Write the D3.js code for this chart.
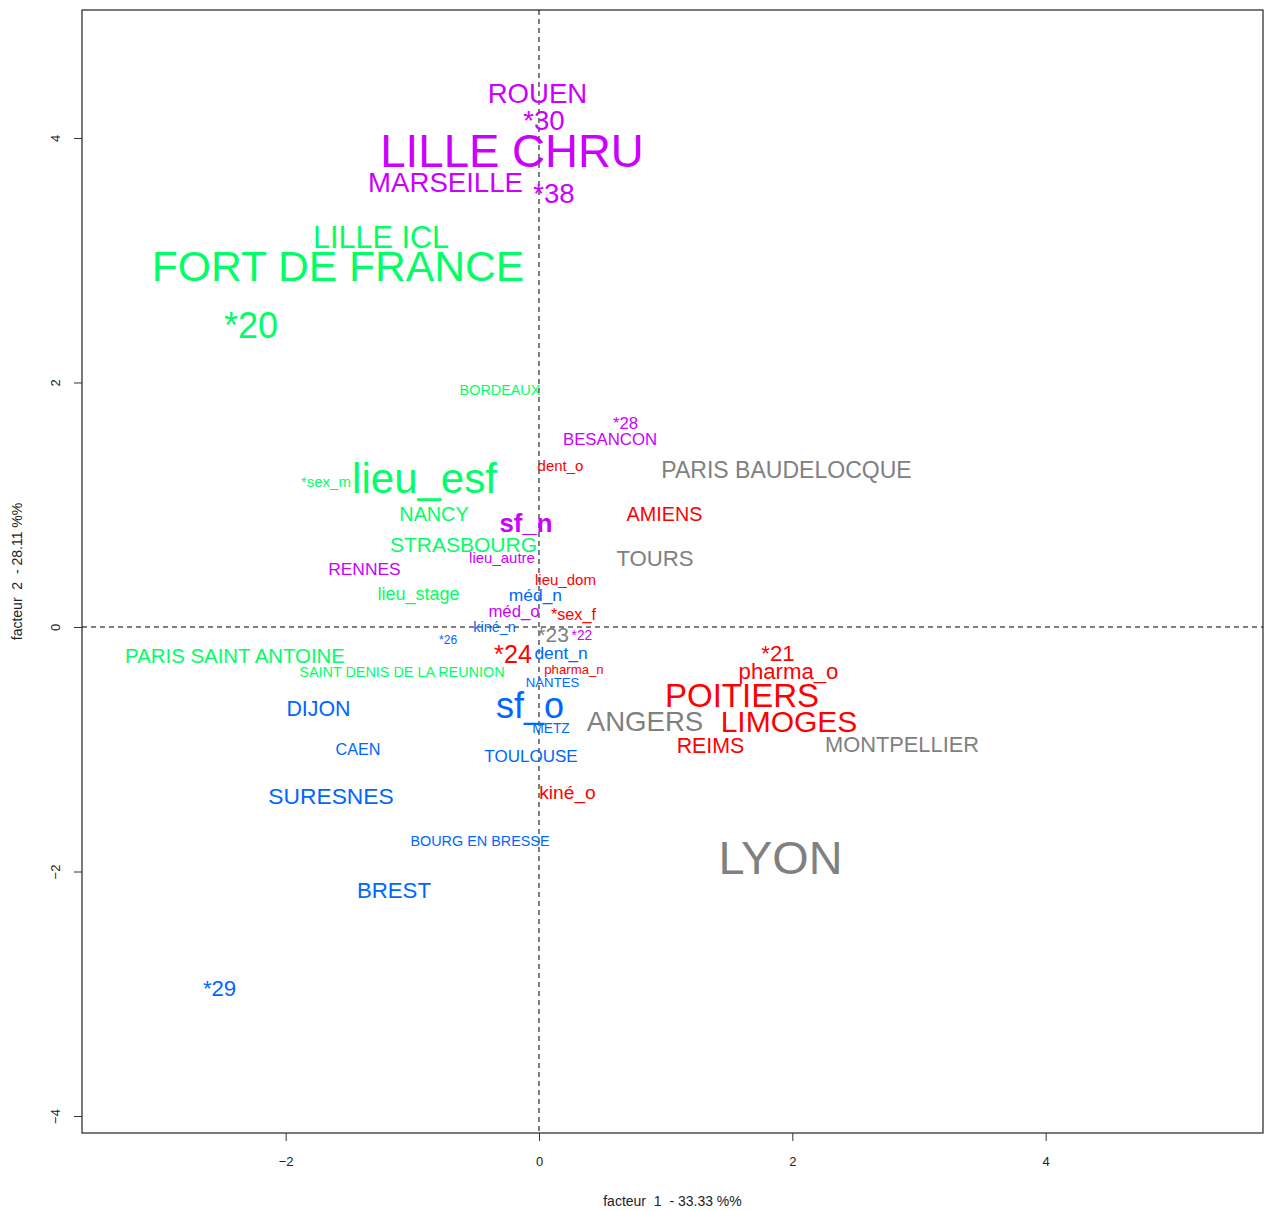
<!DOCTYPE html>
<html>
<head>
<meta charset="utf-8">
<script src="https://cdn.jsdelivr.net/npm/d3@7"></script>
<style>
  body { margin: 0; background: #fff; }
  svg text { font-family: "Liberation Sans", Arial, sans-serif; }
  .axis text { font-family: "Liberation Sans Narrow", "Liberation Sans", sans-serif; font-size: 13px; fill: #222; }
  .axis path, .axis line { stroke: #333; }
  .title { font-family: "Liberation Sans Narrow", "Liberation Sans", sans-serif; font-size: 14px; fill: #222; white-space: pre; }
</style>
</head>
<body>
<svg id="chart" width="1266" height="1211"></svg>
<script>
// individuals and modalities projected on factors 1 and 2
const labels = [
  'ROUEN', '*30', 'LILLE CHRU', 'MARSEILLE', '*38', '*28', 'BESANCON', 'sf_n', 'lieu_autre', 'RENNES', 'méd_o', '*22',
  'LILLE ICL', 'FORT DE FRANCE', '*20', 'BORDEAUX', 'lieu_esf', '*sex_m', 'NANCY', 'STRASBOURG', 'lieu_stage',
  'PARIS SAINT ANTOINE', 'SAINT DENIS DE LA REUNION',
  'méd_n', 'kiné_n', '*26', 'dent_n', 'NANTES', 'sf_o', 'DIJON', 'METZ', 'CAEN', 'TOULOUSE', 'SURESNES',
  'BOURG EN BRESSE', 'BREST', '*29',
  'dent_o', 'AMIENS', 'lieu_dom', '*sex_f', '*24', 'pharma_n', '*21', 'pharma_o', 'POITIERS', 'LIMOGES', 'REIMS', 'kiné_o',
  'PARIS BAUDELOCQUE', 'TOURS', '*23', 'ANGERS', 'MONTPELLIER', 'LYON'
]
const fact1 = [
  -0.012, 0.039, -0.213, -0.738, 0.118, 0.683, 0.561, -0.103, -0.292, -1.378, -0.197, 0.339,
  -1.247, -1.587, -2.274, -0.308, -0.904, -1.682, -0.829, -0.596, -0.951,
  -2.400, -1.082,
  -0.028, -0.351, -0.718, 0.174, 0.107, -0.071, -1.741, 0.095, -1.429, -0.063, -1.642,
  -0.466, -1.145, -2.522,
  0.170, 0.991, 0.209, 0.272, -0.205, 0.276, 1.887, 1.970, 1.603, 1.974, 1.354, 0.225,
  1.954, 0.916, 0.111, 0.837, 2.866, 1.907
]
const fact2 = [
  4.368, 4.147, 3.894, 3.636, 3.550, 1.669, 1.538, 0.854, 0.564, 0.474, 0.131, -0.065,
  3.190, 2.953, 2.470, 1.939, 1.219, 1.186, 0.924, 0.679, 0.270,
  -0.237, -0.368,
  0.262, 0.000, -0.106, -0.213, -0.450, -0.638, -0.663, -0.826, -0.998, -1.055, -1.382,
  -1.751, -2.151, -2.953,
  1.317, 0.924, 0.384, 0.106, -0.221, -0.344, -0.213, -0.360, -0.556, -0.769, -0.965, -1.350,
  1.284, 0.564, -0.057, -0.769, -0.957, -1.881
]
const cluster = [
  4, 4, 4, 4, 4, 4, 4, 4, 4, 4, 4, 4,
  2, 2, 2, 2, 2, 2, 2, 2, 2,
  2, 2,
  3, 3, 3, 3, 3, 3, 3, 3, 3, 3, 3,
  3, 3, 3,
  1, 1, 1, 1, 1, 1, 1, 1, 1, 1, 1, 1,
  5, 5, 5, 5, 5, 5
]
// character expansion (contribution) of each label
const cex = [
  2.3, 2.3, 3.8, 2.3, 2.3, 1.4, 1.4, 2.15, 1.25, 1.45, 1.4, 1.15,
  2.55, 3.55, 3.0, 1.2, 3.5, 1.25, 1.65, 1.75, 1.5,
  1.7, 1.2,
  1.45, 1.2, 1.0, 1.45, 1.1, 3.0, 1.78, 1.15, 1.35, 1.42, 1.9,
  1.2, 1.85, 1.85,
  1.25, 1.65, 1.25, 1.35, 2.1, 1.1, 1.85, 1.85, 2.75, 2.5, 1.78, 1.6,
  1.92, 1.85, 1.75, 2.3, 1.82, 3.9
]
const boldLabels = ['sf_n']
const clusterColors = ['#FF0000', '#00FF66', '#0066FF', '#CC00FF', '#808080']
const xTicks = [-2, 0, 2, 4]
const yTicks = [-4, -2, 0, 2, 4]
const xTitle = 'facteur  1  - 33.33 %%'
const yTitle = 'facteur  2  - 28.11 %%'

const margin = { left: 82, top: 10, right: 3, bottom: 78 }
const width = 1266
const height = 1211

const svg = d3.select('#chart')

const x = d3.scaleLinear().domain([-3.608, 5.716]).range([margin.left, width - margin.right])
const y = d3.scaleLinear().domain([-4.139, 5.047]).range([height - margin.bottom, margin.top])
const size = d3.scaleLinear().domain([0, 1]).range([0, 12])
const color = d3.scaleOrdinal().domain([1, 2, 3, 4, 5]).range(clusterColors)

// axes
svg.append('g')
  .attr('class', 'axis')
  .attr('transform', `translate(0,${height - margin.bottom})`)
  .call(d3.axisBottom(x).tickValues(xTicks).tickSize(8).tickPadding(16).tickFormat(d3.format('d')))
  .call(g => g.select('.domain').remove())

svg.append('g')
  .attr('class', 'axis')
  .attr('transform', `translate(${margin.left},0)`)
  .call(d3.axisLeft(y).tickValues(yTicks).tickSize(8).tickFormat(d3.format('d')))
  .call(g => g.select('.domain').remove())
  .call(g => g.selectAll('text')
    .attr('x', 0).attr('dy', '0.35em')
    .attr('text-anchor', 'middle')
    .attr('transform', 'translate(-27,0) rotate(-90)'))

// plot frame
svg.append('rect')
  .attr('x', margin.left).attr('y', margin.top)
  .attr('width', width - margin.left - margin.right)
  .attr('height', height - margin.top - margin.bottom)
  .attr('fill', 'none').attr('stroke', '#333').attr('stroke-width', 1.3)

// reference lines
svg.append('line')
  .attr('x1', x(0)).attr('x2', x(0))
  .attr('y1', margin.top).attr('y2', height - margin.bottom)
  .attr('stroke', '#000').attr('stroke-dasharray', '5,4')
svg.append('line')
  .attr('x1', margin.left).attr('x2', width - margin.right)
  .attr('y1', y(0)).attr('y2', y(0))
  .attr('stroke', '#000').attr('stroke-dasharray', '5,4')

// axis titles
svg.append('text')
  .attr('class', 'title')
  .attr('x', (margin.left + width - margin.right) / 2)
  .attr('y', 1206)
  .attr('text-anchor', 'middle')
  .text(xTitle)

svg.append('text')
  .attr('class', 'title')
  .attr('transform', `translate(22,${(margin.top + height - margin.bottom) / 2}) rotate(-90)`)
  .attr('text-anchor', 'middle')
  .text(yTitle)

// labels
const points = labels.map((name, i) => ({ name, f1: fact1[i], f2: fact2[i], k: cluster[i], cex: cex[i] }))

svg.append('g')
  .selectAll('text')
  .data(points)
  .join('text')
  .attr('x', d => x(d.f1))
  .attr('y', d => y(d.f2))
  .attr('dy', '0.36em')
  .attr('text-anchor', 'middle')
  .attr('font-size', d => size(d.cex))
  .attr('font-weight', d => boldLabels.includes(d.name) ? 'bold' : 'normal')
  .attr('fill', d => color(d.k))
  .text(d => d.name)
</script>
</body>
</html>
